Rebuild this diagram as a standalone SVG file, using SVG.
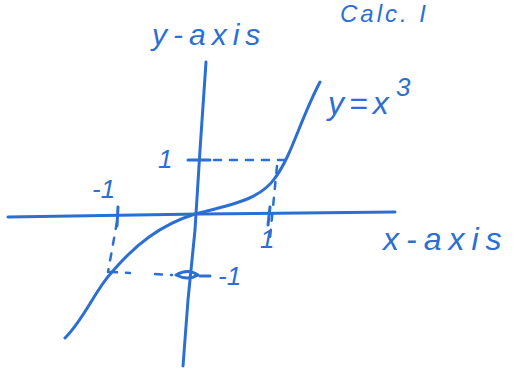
<svg xmlns="http://www.w3.org/2000/svg" width="518" height="370" viewBox="0 0 518 370">
<style>
.ink{fill:none;stroke:#2b6fd2;stroke-width:3;stroke-linecap:round;stroke-linejoin:round}
.dash{fill:none;stroke:#2b6fd2;stroke-width:2.5;stroke-linecap:round;stroke-dasharray:7 9}
.t{fill:#2b6fd2;font-family:"Liberation Sans",sans-serif;font-style:italic}
</style>
<rect width="518" height="370" fill="#fff"/>
<text class="t" x="340" y="22" font-size="24" letter-spacing="3">Calc. I</text>
<g id="axes">
<path class="ink" d="M206 62 L200 150 L195 230 L188 300 L183 366"/>
<path class="ink" d="M8 217 L200 214 L395 212"/>
</g>
<g id="curve">
<path class="ink" d="M65 338 C85 318 95 290 112 272 C135 245 160 225 195 214 C230 205 260 200 275 178 C292 155 300 120 320 82"/>
</g>
<g id="guides">
<path class="dash" d="M214 160 L286 160"/>
<path class="dash" d="M277 166 L270 238"/>
<path class="dash" d="M117 222 L108 272"/>
<path class="dash" d="M110 272 L130 273 M155 274 L172 275"/>
<path class="ink" d="M188 160 L210 160" stroke-width="5"/>
<path class="ink" d="M118 207 L117 226" stroke-width="4"/>
<path class="ink" d="M270 207 L268 225" stroke-width="4"/>
<path class="ink" d="M176 275 Q188 268 198 275 Q188 281 176 275 M200 276 L210 276" stroke-width="5"/>
</g>
<g id="labels">
<text class="t" x="152" y="45" font-size="30" letter-spacing="6">y-axis</text>
<text class="t" x="383" y="250" font-size="32" letter-spacing="7">x-axis</text>
<text class="t" x="328" y="114" font-size="32" letter-spacing="5">y=x</text>
<text class="t" x="396" y="96" font-size="26">3</text>
<text class="t" x="158" y="168" font-size="26">1</text>
<text class="t" x="92" y="198" font-size="26">-1</text>
<text class="t" x="260" y="248" font-size="26">1</text>
<text class="t" x="218" y="285" font-size="26">-1</text>
</g>
</svg>
